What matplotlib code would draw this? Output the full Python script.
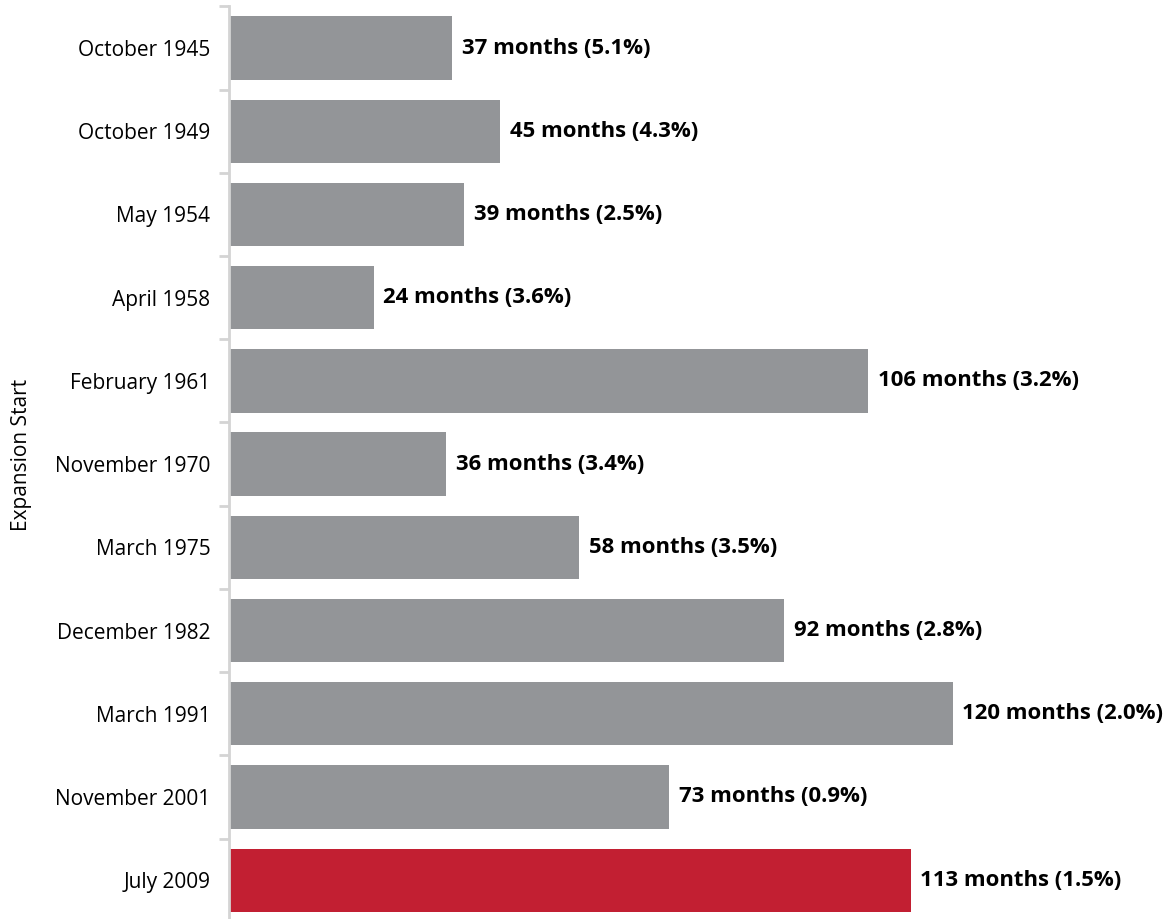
import matplotlib
matplotlib.use('Agg')
import matplotlib.pyplot as plt
from matplotlib.ticker import FixedLocator

plt.rcParams['font.family'] = ['Open Sans', 'DejaVu Sans']

starts = ['October 1945', 'October 1949', 'May 1954', 'April 1958', 'February 1961',
          'November 1970', 'March 1975', 'December 1982', 'March 1991',
          'November 2001', 'July 2009']
months = [37, 45, 39, 24, 106, 36, 58, 92, 120, 73, 113]
growth = [5.1, 4.3, 2.5, 3.6, 3.2, 3.4, 3.5, 2.8, 2.0, 0.9, 1.5]

grey = '#939598'
red = '#C21F32'
colors = [grey] * (len(months) - 1) + [red]

fig = plt.figure(figsize=(11.76, 9.19), dpi=100)
ax = fig.add_axes([0.1948, -0.003, 0.8052, 0.996])

pos = list(range(len(starts)))
ax.barh(pos, months, height=0.76, color=colors, zorder=2)

for p, m, g in zip(pos, months, growth):
    ax.text(m + 1.6, p, f'{m} months ({g:.1f}%)', va='center', ha='left',
            fontsize=15.9, fontweight='bold', color='black')

ax.set_xlim(0, 157)
ax.set_ylim(len(starts) - 0.5, -0.5)
ax.set_yticks(pos)
ax.set_yticklabels(starts, fontsize=15)
ax.yaxis.set_minor_locator(FixedLocator([p - 0.5 for p in range(len(starts) + 1)]))
ax.tick_params(axis='y', which='major', length=0, pad=13.5)
ax.tick_params(axis='y', which='minor', length=7, width=2, color='#D4D4D4')
ax.set_xticks([])

for side in ['top', 'right', 'bottom']:
    ax.spines[side].set_visible(False)
ax.spines['left'].set_color('#D4D4D4')
ax.spines['left'].set_linewidth(2)

ax.set_ylabel('Expansion Start', fontsize=15)
ax.yaxis.set_label_coords(-0.208, 0.51)

fig.savefig('out.png', dpi=100)
